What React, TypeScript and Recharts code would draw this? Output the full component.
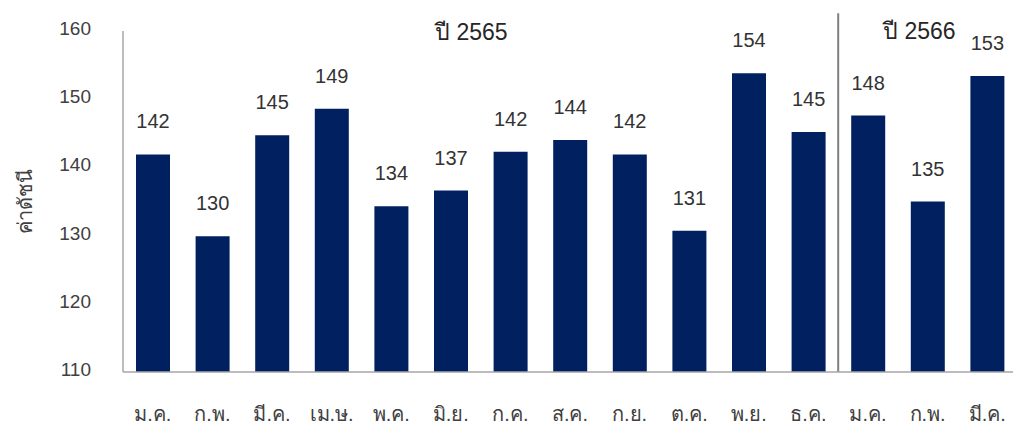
import React from "react";
import {
  BarChart,
  Bar,
  XAxis,
  YAxis,
  LabelList,
  ReferenceLine,
} from "recharts";

const months = [
  "ม.ค.", "ก.พ.", "มี.ค.", "เม.ษ.", "พ.ค.", "มิ.ย.",
  "ก.ค.", "ส.ค.", "ก.ย.", "ต.ค.", "พ.ย.", "ธ.ค.",
  "ม.ค.", "ก.พ.", "มี.ค.",
];
const years = [
  2565, 2565, 2565, 2565, 2565, 2565,
  2565, 2565, 2565, 2565, 2565, 2565,
  2566, 2566, 2566,
];
const indexValues = [
  141.9, 129.9, 144.7, 148.6, 134.3, 136.6, 142.3, 144.0,
  141.9, 130.7, 153.8, 145.2, 147.6, 135.0, 153.4,
];
const yTicks = [110, 120, 130, 140, 150, 160];

const data = months.map((m, i) => ({
  key: `${years[i]}-${i}`,
  month: m,
  value: indexValues[i],
}));

const FONT = "'Liberation Sans', Arial, 'Noto Sans', sans-serif";

// eslint-disable-next-line @typescript-eslint/no-explicit-any
const YTick = ({ x, y, payload }: any) => (
  <text x={x} y={y} dy={4} textAnchor="end" fontSize={19} fill="#404040" fontFamily={FONT}>
    {payload.value}
  </text>
);

// eslint-disable-next-line @typescript-eslint/no-explicit-any
const XTick = ({ x, y, payload }: any) => {
  const row = data.find((d) => d.key === payload.value);
  return (
    <text x={x} y={y + 41} textAnchor="middle" fontSize={20} fill="#404040" fontFamily={FONT}>
      {row ? row.month : ""}
    </text>
  );
};

// eslint-disable-next-line @typescript-eslint/no-explicit-any
const TopLabel = ({ x, y, width, value }: any) => (
  <text
    x={Number(x) + Number(width) / 2}
    y={Number(y) - 26}
    textAnchor="middle"
    fontSize={20}
    fill="#333333"
    fontFamily={FONT}
  >
    {Math.round(Number(value))}
  </text>
);

export default function App() {
  return (
    <div
      style={{
        position: "absolute",
        left: 0,
        top: 0,
        width: 1013,
        height: 427,
        overflow: "hidden",
        background: "#fff",
        fontFamily: FONT,
      }}
    >
      <BarChart
        width={1020}
        height={427}
        data={data}
        margin={{ top: 31, right: 3, left: 0, bottom: 0 }}
        barSize={34}
      >
        <XAxis
          dataKey="key"
          height={55}
          axisLine={{ stroke: "#a6a6a6", strokeWidth: 1.5 }}
          tickLine={false}
          tick={<XTick />}
          interval={0}
        />
        <YAxis
          width={123}
          domain={[110, 160]}
          ticks={yTicks}
          allowDataOverflow
          axisLine={{ stroke: "#a6a6a6", strokeWidth: 1.5 }}
          tickLine={false}
          tickMargin={26}
          tick={<YTick />}
        />
        <ReferenceLine
          segment={[
            { x: data[11].key, y: 162.6 },
            { x: data[11].key, y: 110 },
          ]}
          position="end"
          ifOverflow="visible"
          stroke="#808080"
          strokeWidth={2}
        />
        <Bar dataKey="value" fill="#002060" isAnimationActive={false}>
          <LabelList dataKey="value" content={<TopLabel />} />
        </Bar>
      </BarChart>
      <svg
        width={1013}
        height={427}
        style={{ position: "absolute", left: 0, top: 0, pointerEvents: "none" }}
      >
        <text x={435} y={40} fontSize={23} fill="#262626" fontFamily={FONT}>
          ปี 2565
        </text>
        <text x={883} y={39} fontSize={23} fill="#262626" fontFamily={FONT}>
          ปี 2566
        </text>
        <text
          x={32}
          y={201}
          fontSize={20}
          fill="#404040"
          textAnchor="middle"
          transform="rotate(-90 32 201)"
          fontFamily={FONT}
        >
          ค่าดัชนี
        </text>
      </svg>
    </div>
  );
}
